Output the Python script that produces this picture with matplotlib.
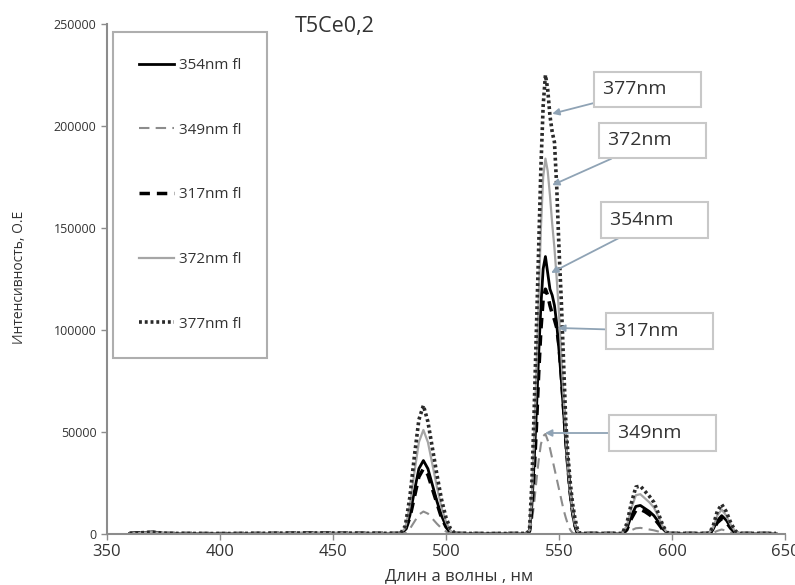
import matplotlib
matplotlib.use("Agg")
import matplotlib.pyplot as plt

plt.rcParams['font.family'] = ['Open Sans', 'DejaVu Sans']

# emission spectra, wavelength in nm
wavelength = [
    360, 370, 376, 400, 440, 478,
    480, 482, 484, 486, 488, 490, 492, 494, 496, 498, 500, 502, 504,
    520, 535,
    536, 537, 538, 539, 540, 541, 542, 543, 544, 545, 546, 547, 548,
    549, 550, 551, 552, 553, 554, 555, 556, 557, 558, 559, 560,
    570, 576,
    578, 580, 582, 584, 586, 588, 590, 592, 594, 596, 598, 600,
    608, 614,
    616, 618, 620, 622, 624, 626, 628, 630,
    640, 646,
]

fl_354 = [
    300, 900, 300, 200, 400, 300,
    300, 2000, 9000, 21000, 32000, 36000, 32000, 24000, 16000, 9000, 4000, 1000, 300,
    200, 300,
    300, 2000, 14000, 35000, 60000, 88000, 112000, 130000, 136000,
    128000, 120000, 117000, 112000, 103000, 90000, 76000, 60000, 45000,
    31000, 19000, 10000, 4000, 1000, 300, 300,
    300, 300,
    300, 2500, 9000, 13500, 14000, 12500, 11000, 9000, 6000, 2500, 300, 300,
    300, 300,
    300, 1800, 6500, 9000, 6800, 3300, 900, 300,
    300, 300,
]

fl_349 = [
    200, 500, 200, 200, 300, 200,
    200, 500, 2500, 6000, 9500, 11000, 10000, 7500, 5000, 2800, 1200, 300, 200,
    200, 200,
    200, 800, 6000, 15000, 26000, 36000, 44000, 48000, 49000,
    46000, 42000, 37000, 32000, 27000, 22000, 17000, 12000, 8000,
    4500, 2000, 500, 200, 200, 200, 200,
    200, 200,
    200, 500, 1800, 2800, 3000, 2600, 2200, 1800, 1200, 500, 200, 200,
    200, 200,
    200, 400, 1500, 2200, 1600, 800, 200, 200,
    200, 200,
]

fl_317 = [
    300, 800, 300, 200, 400, 300,
    300, 1800, 8000, 18000, 28000, 32000, 29000, 22000, 15000, 8000, 3500, 800, 300,
    200, 300,
    300, 1500, 12000, 30000, 52000, 78000, 100000, 115000, 120000,
    117000, 112000, 108000, 105000, 101000, 92000, 78000, 62000, 46000,
    32000, 20000, 11000, 4500, 1000, 300, 300,
    300, 300,
    300, 2000, 7500, 11500, 12000, 11000, 9500, 7800, 5000, 2000, 300, 300,
    300, 300,
    300, 1500, 5500, 7500, 5800, 2800, 700, 300,
    300, 300,
]

fl_372 = [
    300, 900, 300, 200, 400, 300,
    300, 3000, 14000, 30000, 45000, 51000, 45000, 34000, 23000, 13000, 6000, 1500, 300,
    200, 300,
    300, 2000, 18000, 48000, 80000, 115000, 150000, 175000, 184000,
    178000, 166000, 152000, 140000, 125000, 108000, 88000, 68000, 48000,
    32000, 20000, 11000, 5000, 1500, 300, 300,
    300, 300,
    300, 4000, 12500, 19000, 19500, 17500, 15500, 13000, 8500, 3500, 400, 300,
    300, 300,
    300, 2500, 9000, 12000, 9000, 4500, 1200, 300,
    300, 300,
]

fl_377 = [
    300, 900, 300, 200, 500, 300,
    400, 4000, 18000, 38000, 56000, 63000, 55000, 42000, 29000, 17000, 8000, 2500, 300,
    200, 300,
    300, 3000, 25000, 60000, 100000, 140000, 180000, 210000, 225000,
    218000, 205000, 197000, 192000, 170000, 140000, 115000, 85000, 55000,
    38000, 25000, 15000, 8000, 3000, 500, 300,
    300, 300,
    300, 5000, 15000, 23000, 23500, 21000, 18500, 15500, 10000, 4000, 500, 300,
    300, 300,
    300, 3000, 11000, 14500, 11000, 5500, 1500, 300,
    300, 300,
]

# label, arrow target (nm, intensity), text anchor (nm, intensity)
callouts = [
    ("377nm", (547, 206000), (569.4, 218000)),
    ("372nm", (547, 171000), (571.7, 193000)),
    ("354nm", (546.5, 128000), (572.5, 154000)),
    ("317nm", (549.6, 101000), (574.8, 99500)),
    ("349nm", (543.8, 49500), (576.1, 49500)),
]

fig = plt.figure(figsize=(7.95, 5.85), dpi=100)
ax = fig.add_axes([0.1346, 0.0872, 0.8528, 0.8718])

ax.plot(wavelength, fl_354, color='black', lw=2.0, label='354nm fl')
ax.plot(wavelength, fl_349, color='#8c8c8c', lw=1.5, dashes=(5, 3), label='349nm fl')
ax.plot(wavelength, fl_317, color='black', lw=2.5, dashes=(3, 2), label='317nm fl')
ax.plot(wavelength, fl_372, color='#a6a6a6', lw=1.6, label='372nm fl')
ax.plot(wavelength, fl_377, color='#2a2a2a', lw=2.6, dashes=(0.8, 0.8), label='377nm fl')

ax.set_xlim(350, 650)
ax.set_ylim(0, 250000)
ax.set_xticks(range(350, 651, 50))
ax.set_yticks(range(0, 250001, 50000))
ax.set_yticklabels([str(v) for v in range(0, 250001, 50000)], fontsize=9, color='#333333')
ax.set_xticklabels([str(v) for v in range(350, 651, 50)], fontsize=12, color='#333333')
ax.tick_params(direction='out', length=4, width=1, color='#8c8c8c')

for side in ('top', 'right'):
    ax.spines[side].set_visible(False)
for side in ('left', 'bottom'):
    ax.spines[side].set_color('#8c8c8c')
    ax.spines[side].set_linewidth(1.5)

leg = ax.legend(loc='upper left', bbox_to_anchor=(0.0088, 0.984), fontsize=11,
                labelspacing=3.25, handlelength=2.3, handletextpad=0.3,
                borderpad=1.7, fancybox=False, frameon=True, borderaxespad=0)
leg.get_frame().set_edgecolor('#9a9a9a')
leg.get_frame().set_linewidth(1.5)
for t in leg.get_texts():
    t.set_color('#333333')

for text, target, anchor in callouts:
    ax.annotate(text + '     ', xy=target, xytext=anchor, fontsize=14, color='#333333',
                ha='left', va='center',
                bbox=dict(boxstyle='square,pad=0.45', fc='white', ec='#c8c8c8', lw=1.5),
                arrowprops=dict(arrowstyle='-|>', color='#8fa3b5', lw=1.3,
                                mutation_scale=10, shrinkA=0, shrinkB=0))

fig.text(0.421, 0.954, 'T5Ce0,2', fontsize=15.5, color='#333333', ha='center', va='center')
fig.text(0.025, 0.525, 'Интенсивность, О.Е', fontsize=10, color='#333333',
         rotation=90, ha='center', va='center')
fig.text(0.577, 0.016, 'Длин а волны , нм', fontsize=12, color='#333333',
         ha='center', va='center')

fig.savefig('out.png', dpi=100)
